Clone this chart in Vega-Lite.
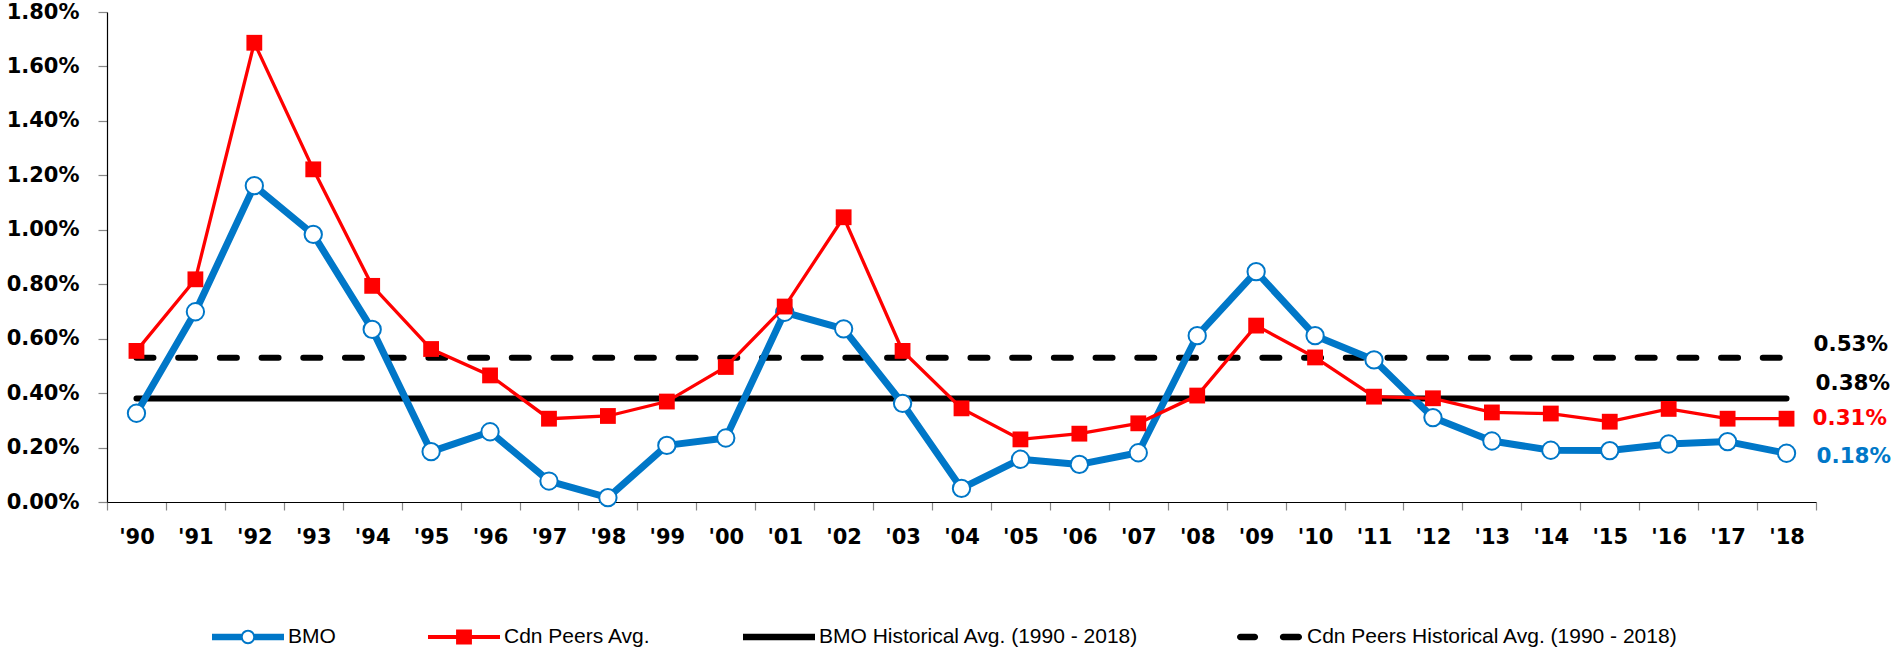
{
  "$schema": "https://vega.github.io/schema/vega-lite/v6.json",
  "width": 1709,
  "height": 490,
  "autosize": "none",
  "padding": {"left": 107, "top": 12, "right": 76, "bottom": 148},
  "background": "white",
  "config": {
    "view": {"stroke": null},
    "axis": {
      "labelFont": "DejaVu Sans",
      "labelFontWeight": "bold",
      "labelFontSize": 21,
      "labelColor": "#000000",
      "domainColor": "#000000",
      "domainWidth": 1.2,
      "tickColor": "#888888",
      "tickWidth": 1.2,
      "grid": false,
      "title": null
    }
  },
  "data": {
    "values": [
      {"year": "'90", "series": "BMO", "value": 0.00326},
      {"year": "'91", "series": "BMO", "value": 0.00699},
      {"year": "'92", "series": "BMO", "value": 0.01162},
      {"year": "'93", "series": "BMO", "value": 0.00983},
      {"year": "'94", "series": "BMO", "value": 0.00634},
      {"year": "'95", "series": "BMO", "value": 0.00185},
      {"year": "'96", "series": "BMO", "value": 0.00258},
      {"year": "'97", "series": "BMO", "value": 0.00077},
      {"year": "'98", "series": "BMO", "value": 0.00016},
      {"year": "'99", "series": "BMO", "value": 0.00208},
      {"year": "'00", "series": "BMO", "value": 0.00235},
      {"year": "'01", "series": "BMO", "value": 0.00697},
      {"year": "'02", "series": "BMO", "value": 0.00636},
      {"year": "'03", "series": "BMO", "value": 0.00362},
      {"year": "'04", "series": "BMO", "value": 0.0005},
      {"year": "'05", "series": "BMO", "value": 0.00157},
      {"year": "'06", "series": "BMO", "value": 0.00138},
      {"year": "'07", "series": "BMO", "value": 0.00181},
      {"year": "'08", "series": "BMO", "value": 0.00611},
      {"year": "'09", "series": "BMO", "value": 0.00846},
      {"year": "'10", "series": "BMO", "value": 0.00611},
      {"year": "'11", "series": "BMO", "value": 0.00522},
      {"year": "'12", "series": "BMO", "value": 0.0031},
      {"year": "'13", "series": "BMO", "value": 0.00224},
      {"year": "'14", "series": "BMO", "value": 0.0019},
      {"year": "'15", "series": "BMO", "value": 0.00189},
      {"year": "'16", "series": "BMO", "value": 0.00213},
      {"year": "'17", "series": "BMO", "value": 0.00222},
      {"year": "'18", "series": "BMO", "value": 0.00179},
      {"year": "'90", "series": "Cdn Peers Avg.", "value": 0.00555},
      {"year": "'91", "series": "Cdn Peers Avg.", "value": 0.00818},
      {"year": "'92", "series": "Cdn Peers Avg.", "value": 0.01687},
      {"year": "'93", "series": "Cdn Peers Avg.", "value": 0.01222},
      {"year": "'94", "series": "Cdn Peers Avg.", "value": 0.00794},
      {"year": "'95", "series": "Cdn Peers Avg.", "value": 0.00562},
      {"year": "'96", "series": "Cdn Peers Avg.", "value": 0.00465},
      {"year": "'97", "series": "Cdn Peers Avg.", "value": 0.00306},
      {"year": "'98", "series": "Cdn Peers Avg.", "value": 0.00316},
      {"year": "'99", "series": "Cdn Peers Avg.", "value": 0.00369},
      {"year": "'00", "series": "Cdn Peers Avg.", "value": 0.00496},
      {"year": "'01", "series": "Cdn Peers Avg.", "value": 0.00718},
      {"year": "'02", "series": "Cdn Peers Avg.", "value": 0.01046},
      {"year": "'03", "series": "Cdn Peers Avg.", "value": 0.00555},
      {"year": "'04", "series": "Cdn Peers Avg.", "value": 0.00344},
      {"year": "'05", "series": "Cdn Peers Avg.", "value": 0.0023},
      {"year": "'06", "series": "Cdn Peers Avg.", "value": 0.00251},
      {"year": "'07", "series": "Cdn Peers Avg.", "value": 0.00289},
      {"year": "'08", "series": "Cdn Peers Avg.", "value": 0.00391},
      {"year": "'09", "series": "Cdn Peers Avg.", "value": 0.00648},
      {"year": "'10", "series": "Cdn Peers Avg.", "value": 0.00531},
      {"year": "'11", "series": "Cdn Peers Avg.", "value": 0.00387},
      {"year": "'12", "series": "Cdn Peers Avg.", "value": 0.00381},
      {"year": "'13", "series": "Cdn Peers Avg.", "value": 0.00329},
      {"year": "'14", "series": "Cdn Peers Avg.", "value": 0.00325},
      {"year": "'15", "series": "Cdn Peers Avg.", "value": 0.00295},
      {"year": "'16", "series": "Cdn Peers Avg.", "value": 0.00342},
      {"year": "'17", "series": "Cdn Peers Avg.", "value": 0.00306},
      {"year": "'18", "series": "Cdn Peers Avg.", "value": 0.00306},
      {"year": "'90", "series": "BMO Historical Avg. (1990 - 2018)", "value": 0.0038},
      {"year": "'18", "series": "BMO Historical Avg. (1990 - 2018)", "value": 0.0038},
      {"year": "'90", "series": "Cdn Peers Historical Avg. (1990 - 2018)", "value": 0.0053},
      {"year": "'18", "series": "Cdn Peers Historical Avg. (1990 - 2018)", "value": 0.0053}
    ]
  },
  "encoding": {
    "x": {
      "field": "year",
      "type": "ordinal",
      "scale": {
        "type": "band",
        "paddingInner": 0,
        "paddingOuter": 0,
        "domain": ["'90","'91","'92","'93","'94","'95","'96","'97","'98","'99","'00","'01","'02","'03","'04","'05","'06","'07","'08","'09","'10","'11","'12","'13","'14","'15","'16","'17","'18"]
      },
      "axis": {"labelAngle": 0, "tickBand": "extent", "tickSize": 8, "labelPadding": 16}
    },
    "y": {
      "field": "value",
      "type": "quantitative",
      "scale": {"domain": [0, 0.018], "nice": false, "zero": true},
      "axis": {
        "values": [0, 0.002, 0.004, 0.006, 0.008, 0.01, 0.012, 0.014, 0.016, 0.018],
        "format": ".2%",
        "tickSize": 9,
        "labelPadding": 19
      }
    }
  },
  "layer": [
    {
      "transform": [{"filter": "indexof(datum.series, 'Historical') >= 0"}],
      "mark": {"type": "line", "strokeWidth": 6, "strokeCap": "round"},
      "encoding": {
        "color": {
          "field": "series",
          "type": "nominal",
          "scale": {
            "domain": ["BMO", "Cdn Peers Avg.", "BMO Historical Avg. (1990 - 2018)", "Cdn Peers Historical Avg. (1990 - 2018)"],
            "range": ["#0077c8", "#ff0000", "#000000", "#000000"]
          },
          "legend": {
            "title": null,
            "orient": "none",
            "legendX": 105,
            "legendY": 589,
            "padding": 0,
            "direction": "horizontal",
            "columns": 4,
            "columnPadding": 92,
            "symbolSize": 5184,
            "labelFont": "Liberation Sans",
            "labelFontSize": 21,
            "labelColor": "#000000",
            "labelOffset": 4,
            "labelLimit": 600,
            "encode": {
              "symbols": {
                "update": {
                  "size": {"value": 5184},
                  "strokeWidth": {"value": 0},
                  "shape": {"signal": "datum.value === 'BMO' ? 'M-1,-0.093H-0.18V0.093H-1ZM0.18,-0.093H1V0.093H0.18ZM0.2,0A0.2,0.2,0,1,1,-0.2,0A0.2,0.2,0,1,1,0.2,0ZM0.145,0A0.145,0.145,0,1,0,-0.145,0A0.145,0.145,0,1,0,0.145,0Z' : datum.value === 'Cdn Peers Avg.' ? 'M-1,-0.056H1V0.056H-1ZM-0.22,-0.21H0.22V0.21H-0.22Z' : datum.value === 'BMO Historical Avg. (1990 - 2018)' ? 'M-1,-0.093H1V0.093H-1Z' : 'M-0.74,-0.093H-0.34A0.093,0.093,0,0,1,-0.34,0.093H-0.74A0.093,0.093,0,0,1,-0.74,-0.093ZM0.45,-0.093H0.88A0.093,0.093,0,0,1,0.88,0.093H0.45A0.093,0.093,0,0,1,0.45,-0.093Z'"},
                  "fill": {"signal": "datum.value === 'BMO' ? '#0077c8' : datum.value === 'Cdn Peers Avg.' ? '#ff0000' : '#000000'"},
                  "stroke": {"value": "transparent"},
                  "opacity": {"value": 1},
                  "fillOpacity": {"value": 1}
                }
              }
            }
          }
        },
        "strokeDash": {
          "field": "series",
          "type": "nominal",
          "scale": {
            "domain": ["BMO Historical Avg. (1990 - 2018)", "Cdn Peers Historical Avg. (1990 - 2018)"],
            "range": [[1, 0], [17, 24.7]]
          },
          "legend": null
        }
      }
    },
    {
      "transform": [{"filter": "datum.series === 'BMO'"}],
      "mark": {"type": "line", "strokeWidth": 7, "strokeJoin": "round"},
      "encoding": {"color": {"field": "series", "type": "nominal"}}
    },
    {
      "transform": [{"filter": "datum.series === 'BMO'"}],
      "mark": {"type": "point", "shape": "circle", "filled": true, "fill": "#ffffff", "stroke": "#0077c8", "strokeWidth": 2, "size": 300, "opacity": 1}
    },
    {
      "transform": [{"filter": "datum.series === 'Cdn Peers Avg.'"}],
      "mark": {"type": "line", "strokeWidth": 3.3},
      "encoding": {"color": {"field": "series", "type": "nominal"}}
    },
    {
      "transform": [{"filter": "datum.series === 'Cdn Peers Avg.'"}],
      "mark": {"type": "point", "shape": "square", "filled": true, "fill": "#ff0000", "size": 250, "opacity": 1}
    },
    {
      "transform": [{"filter": "datum.series === 'Cdn Peers Historical Avg. (1990 - 2018)' && datum.year === \"'18\""}],
      "mark": {"type": "text", "align": "left", "baseline": "middle", "dx": 27, "dy": -13, "font": "DejaVu Sans", "fontWeight": "bold", "fontSize": 21.5, "fill": "#000000"},
      "encoding": {"text": {"field": "value", "type": "quantitative", "format": ".2%"}}
    },
    {
      "transform": [{"filter": "datum.series === 'BMO Historical Avg. (1990 - 2018)' && datum.year === \"'18\""}],
      "mark": {"type": "text", "align": "left", "baseline": "middle", "dx": 29, "dy": -15, "font": "DejaVu Sans", "fontWeight": "bold", "fontSize": 21.5, "fill": "#000000"},
      "encoding": {"text": {"field": "value", "type": "quantitative", "format": ".2%"}}
    },
    {
      "transform": [{"filter": "datum.series === 'Cdn Peers Avg.' && datum.year === \"'18\""}],
      "mark": {"type": "text", "align": "left", "baseline": "middle", "dx": 26, "dy": 0, "font": "DejaVu Sans", "fontWeight": "bold", "fontSize": 21.5, "fill": "#ff0000"},
      "encoding": {"text": {"field": "value", "type": "quantitative", "format": ".2%"}}
    },
    {
      "transform": [{"filter": "datum.series === 'BMO' && datum.year === \"'18\""}],
      "mark": {"type": "text", "align": "left", "baseline": "middle", "dx": 30, "dy": 4, "font": "DejaVu Sans", "fontWeight": "bold", "fontSize": 21.5, "fill": "#0077c8"},
      "encoding": {"text": {"field": "value", "type": "quantitative", "format": ".2%"}}
    }
  ]
}
